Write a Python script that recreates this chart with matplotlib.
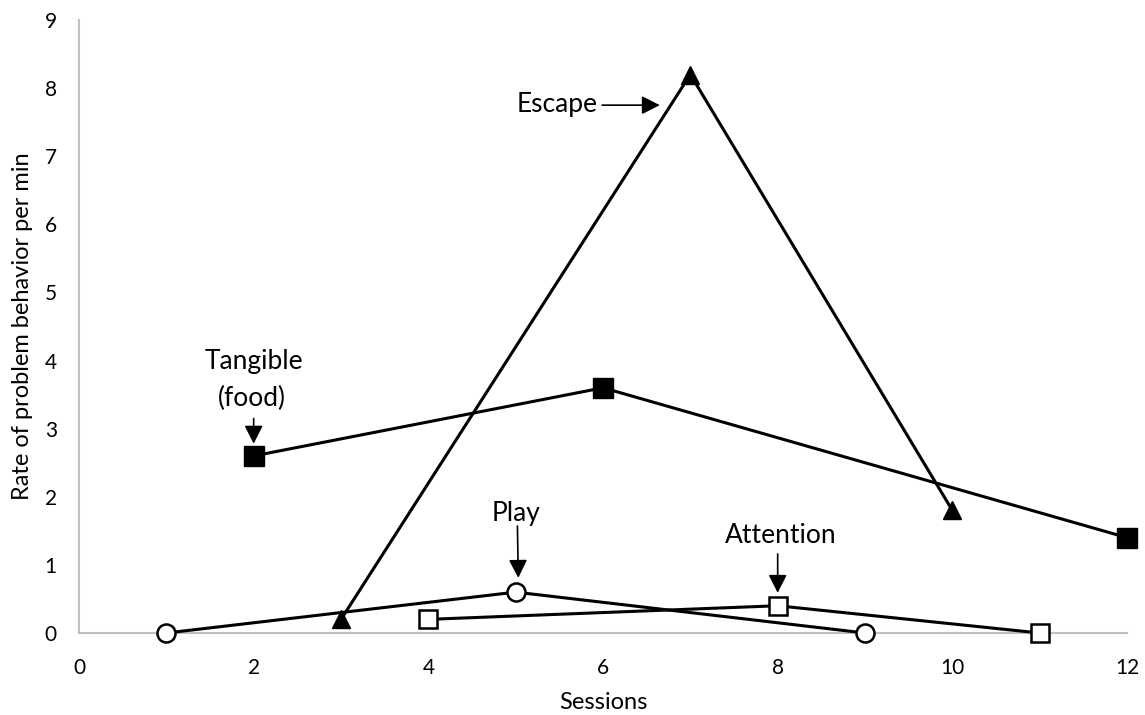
import matplotlib
matplotlib.use('Agg')
import matplotlib.pyplot as plt

plt.rcParams['font.family'] = ['Lato', 'DejaVu Sans']

play_x = [1, 5, 9]
play_y = [0, 0.6, 0]
escape_x = [3, 7, 10]
escape_y = [0.2, 8.2, 1.8]
tangible_x = [2, 6, 12]
tangible_y = [2.6, 3.6, 1.4]
attention_x = [4, 8, 11]
attention_y = [0.2, 0.4, 0]

fig = plt.figure(figsize=(11.45, 7.15), dpi=100)
ax = fig.add_axes([0.069, 0.1147, 0.9153, 0.8573])

lw = 2.2
ax.plot(play_x, play_y, color='black', lw=lw, marker='o', ms=13,
        mfc='white', mec='black', mew=1.8, zorder=3, clip_on=False)
ax.plot(escape_x, escape_y, color='black', lw=lw, marker='^', ms=13,
        mfc='black', mec='black', zorder=3, clip_on=False)
ax.plot(tangible_x, tangible_y, color='black', lw=lw, marker='s', ms=14,
        mfc='black', mec='black', zorder=3, clip_on=False)
ax.plot(attention_x, attention_y, color='black', lw=lw, marker='s', ms=13.5,
        mfc='white', mec='black', mew=1.8, zorder=3, clip_on=False)

# labels + arrows (Excel-ish callouts)
arrow = dict(arrowstyle='-|>,head_length=0.55,head_width=0.28', color='black',
             lw=1.2, mutation_scale=20, shrinkA=0, shrinkB=0)
fs = 19
ax.text(5.94, 7.65, 'Escape', ha='right', va='baseline', fontsize=fs)
ax.annotate('', xy=(6.65, 7.75), xytext=(5.99, 7.75), arrowprops=arrow)

ax.text(2.0, 3.88, 'Tangible', ha='center', va='baseline', fontsize=fs)
ax.text(1.98, 3.33, '(food)', ha='center', va='baseline', fontsize=fs)
ax.annotate('', xy=(2.0, 2.78), xytext=(2.0, 3.15), arrowprops=arrow)

ax.text(5.0, 1.65, 'Play', ha='center', va='baseline', fontsize=fs)
ax.annotate('', xy=(5.03, 0.81), xytext=(5.02, 1.57), arrowprops=arrow)

ax.text(8.04, 1.32, 'Attention', ha='center', va='baseline', fontsize=fs)
ax.annotate('', xy=(8.0, 0.59), xytext=(8.0, 1.16), arrowprops=arrow)

ax.set_xlim(0, 12)
ax.set_ylim(0, 9)
ax.set_xticks(range(0, 13, 2))
ax.set_yticks(range(0, 10))
ax.tick_params(axis='x', length=0, labelsize=15, pad=18)
ax.tick_params(axis='y', length=0, labelsize=15, pad=16)
for s in ['top', 'right']:
    ax.spines[s].set_visible(False)
for s in ['left', 'bottom']:
    ax.spines[s].set_color('#c0c0c0')
    ax.spines[s].set_linewidth(1.5)
ax.set_xlabel('Sessions', fontsize=17)
ax.set_ylabel('Rate of problem behavior per min', fontsize=17)
ax.xaxis.set_label_coords(0.5, -0.114)
ax.yaxis.set_label_coords(-0.054, 0.5)
ax.xaxis.label.set_va('center')
ax.yaxis.label.set_va('center')

fig.savefig('out.png', dpi=100)
